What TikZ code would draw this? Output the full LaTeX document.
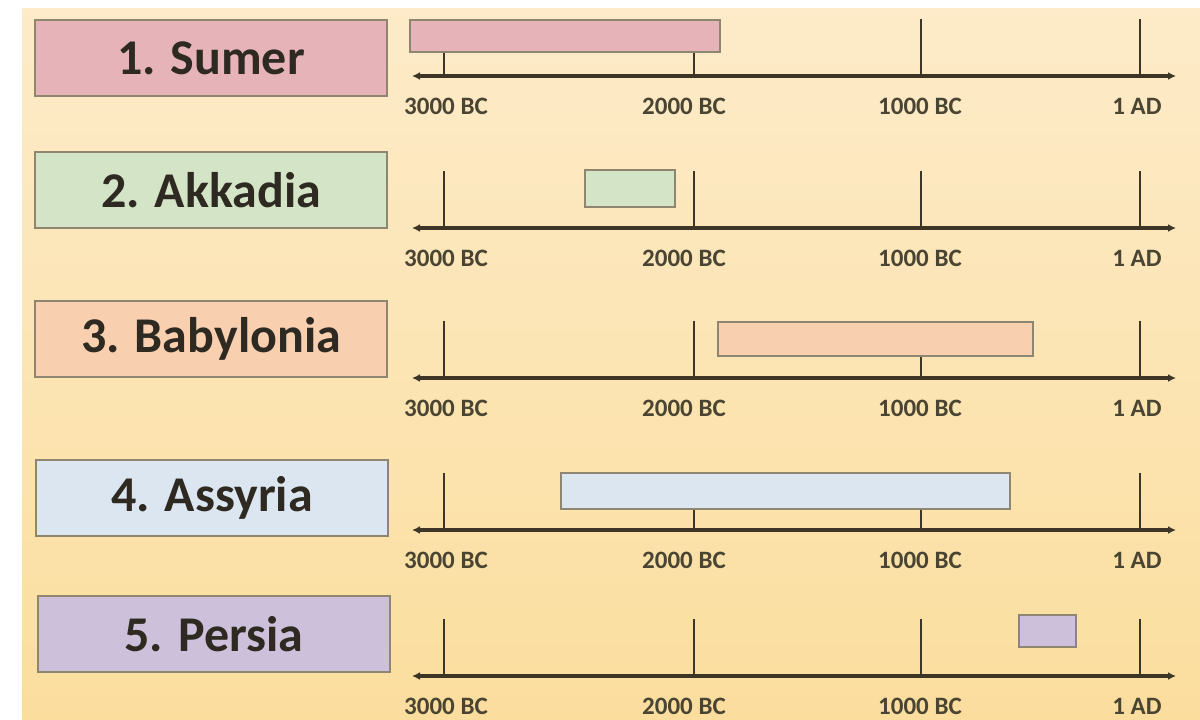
\documentclass[tikz,border=0pt]{standalone}
\usepackage{fontspec}
\setmainfont{Carlito}
\usetikzlibrary{arrows.meta}
\definecolor{bgtop}{HTML}{FDEBC9}
\definecolor{bgbot}{HTML}{FBDE9E}
\definecolor{ink}{HTML}{2E2A22}
\definecolor{axisc}{HTML}{3D3626}
\definecolor{tlab}{HTML}{4A4432}
\definecolor{edge}{HTML}{8F8672}
\definecolor{csumer}{HTML}{E6B4B8}
\definecolor{cakk}{HTML}{D4E4C6}
\definecolor{cbab}{HTML}{F8CFAF}
\definecolor{cass}{HTML}{DCE6F1}
\definecolor{cper}{HTML}{CCC0DB}
\begin{document}
\begin{tikzpicture}[x=0.5pt,y=-0.5pt,
  labelbox/.style={draw=edge,line width=1.3pt,minimum width=176pt,minimum height=38pt,
    inner sep=0pt,font=\bfseries\fontsize{25}{28}\selectfont,text=ink},
  bar/.style={draw=edge,line width=1.1pt},
  axisline/.style={draw=axisc,line width=1.6pt,{Latex[length=4pt,width=4pt]}-{Latex[length=4pt,width=4pt]}},
  tickline/.style={draw=axisc,line width=0.9pt},
  ticklabel/.style={font=\bfseries\fontsize{12.5}{14}\selectfont,text=tlab,inner sep=0pt}]
\useasboundingbox (0,0) rectangle (1200,719);
\fill[white] (0,0) rectangle (1200,719);
\shade[top color=bgtop,bottom color=bgbot] (22,8) rectangle (1200,719);
% label boxes
\node[labelbox,fill=csumer] (l1) at (211,58) {1. Sumer};
\node[labelbox,fill=cakk] (l2) at (211,190) {2. Akkadia};
\node[labelbox,fill=cbab] (l3) at (211,339) {3. Babylonia};
\node[labelbox,fill=cass] (l4) at (212,498) {4. Assyria};
\node[labelbox,fill=cper] (l5) at (214,634) {5. Persia};
% timelines
\foreach \i/\ay in {1/76,2/228,3/378,4/530,5/676}{
  \coordinate (a\i l) at (412,\ay);
  \coordinate (a\i r) at (1176,\ay);
  \foreach \j/\tx/\lx/\txt in {1/444/446/3000 BC,2/694/684/2000 BC,3/921/920/1000 BC,4/1140/1137/1 AD}{
    \coordinate (t\i-\j) at (\tx,\ay);
    \coordinate (u\i-\j) at (\tx,\ay-57);
    \draw[tickline] (t\i-\j) -- (u\i-\j);
    \node[ticklabel] (n\i-\j) at (\lx,\ay+30) {\txt};
  }
  \draw[axisline] (a\i l) -- (a\i r);
}
% period bars
\draw[bar,fill=csumer] (410,20) rectangle (720,52);
\draw[bar,fill=cakk] (585,170) rectangle (675,207);
\draw[bar,fill=cbab] (718,322) rectangle (1033,356);
\draw[bar,fill=cass] (561,473) rectangle (1010,509);
\draw[bar,fill=cper] (1019,615) rectangle (1076,647);
\end{tikzpicture}
\end{document}
